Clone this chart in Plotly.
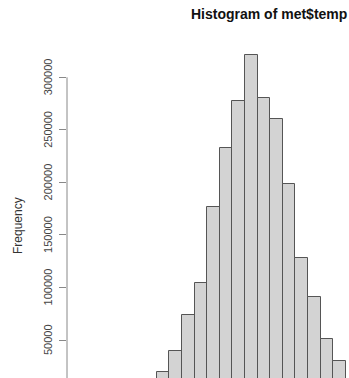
import plotly.graph_objects as go

# Histogram bin edges (temperature) and counts per bin
breaks = [8, 10, 12, 14, 16, 18, 20, 22, 24, 26, 28, 30, 32, 34, 36, 38]
counts = [19600, 39800, 73500, 103900, 176100, 232500, 277500, 320900,
          280700, 260100, 198600, 128200, 90900, 51200, 30300]
y_ticks = [0, 50000, 100000, 150000, 200000, 250000, 300000]

mids = [(a + b) / 2 for a, b in zip(breaks[:-1], breaks[1:])]
widths = [b - a for a, b in zip(breaks[:-1], breaks[1:])]

FONT = "Liberation Sans, Arial, Helvetica, sans-serif"
AXIS_GREY = "#888888"
PLOT_W = 349 - 67          # plot-area width in px
LABEL_X = -19 / PLOT_W     # tick-label centre, left of the axis

fig = go.Figure(
    go.Bar(
        x=mids,
        y=counts,
        width=widths,
        marker=dict(color="#d3d3d3", line=dict(color="#555555", width=1)),
        hoverinfo="skip",
    )
)

# rotated tick labels placed on the y scale
tick_labels = [dict(text=str(v), xref="paper", yref="y", x=LABEL_X, y=v,
                    xanchor="center", yanchor="middle", textangle=-90,
                    showarrow=False,
                    font=dict(size=11, color="#444444", family=FONT))
               for v in y_ticks]

fig.update_layout(
    width=349,
    height=378,
    margin=dict(l=67, r=0, t=40, b=0),
    paper_bgcolor="white",
    plot_bgcolor="white",
    showlegend=False,
    bargap=0,
    font=dict(family=FONT, color="#333333"),
    xaxis=dict(
        range=[-6.24, 38.52],
        showgrid=False,
        zeroline=False,
        showline=False,
        showticklabels=False,
        ticks="",
    ),
    yaxis=dict(
        range=[13837, 335497],
        tickvals=y_ticks,
        ticks="outside",
        ticklen=7,
        tickwidth=1,
        tickcolor=AXIS_GREY,
        showticklabels=False,
        showgrid=False,
        zeroline=False,
        showline=False,
    ),
    shapes=[
        # axis line spans only the first to the last tick
        dict(type="line", xref="paper", yref="y", x0=0, x1=0,
             y0=y_ticks[0], y1=y_ticks[-1],
             line=dict(color=AXIS_GREY, width=1)),
    ],
    annotations=[
        dict(text="<b>Histogram of met$temp</b>", xref="paper", yref="paper",
             x=0.718, y=1.0784, xanchor="center", yanchor="middle",
             showarrow=False, font=dict(size=14, color="#111111", family=FONT)),
        dict(text="Frequency", xref="paper", yref="paper",
             x=-0.1738, y=0.4527, xanchor="center", yanchor="middle",
             textangle=-90, showarrow=False,
             font=dict(size=12, color="#333333", family=FONT)),
    ] + tick_labels,
)

fig.write_html("out.html")
